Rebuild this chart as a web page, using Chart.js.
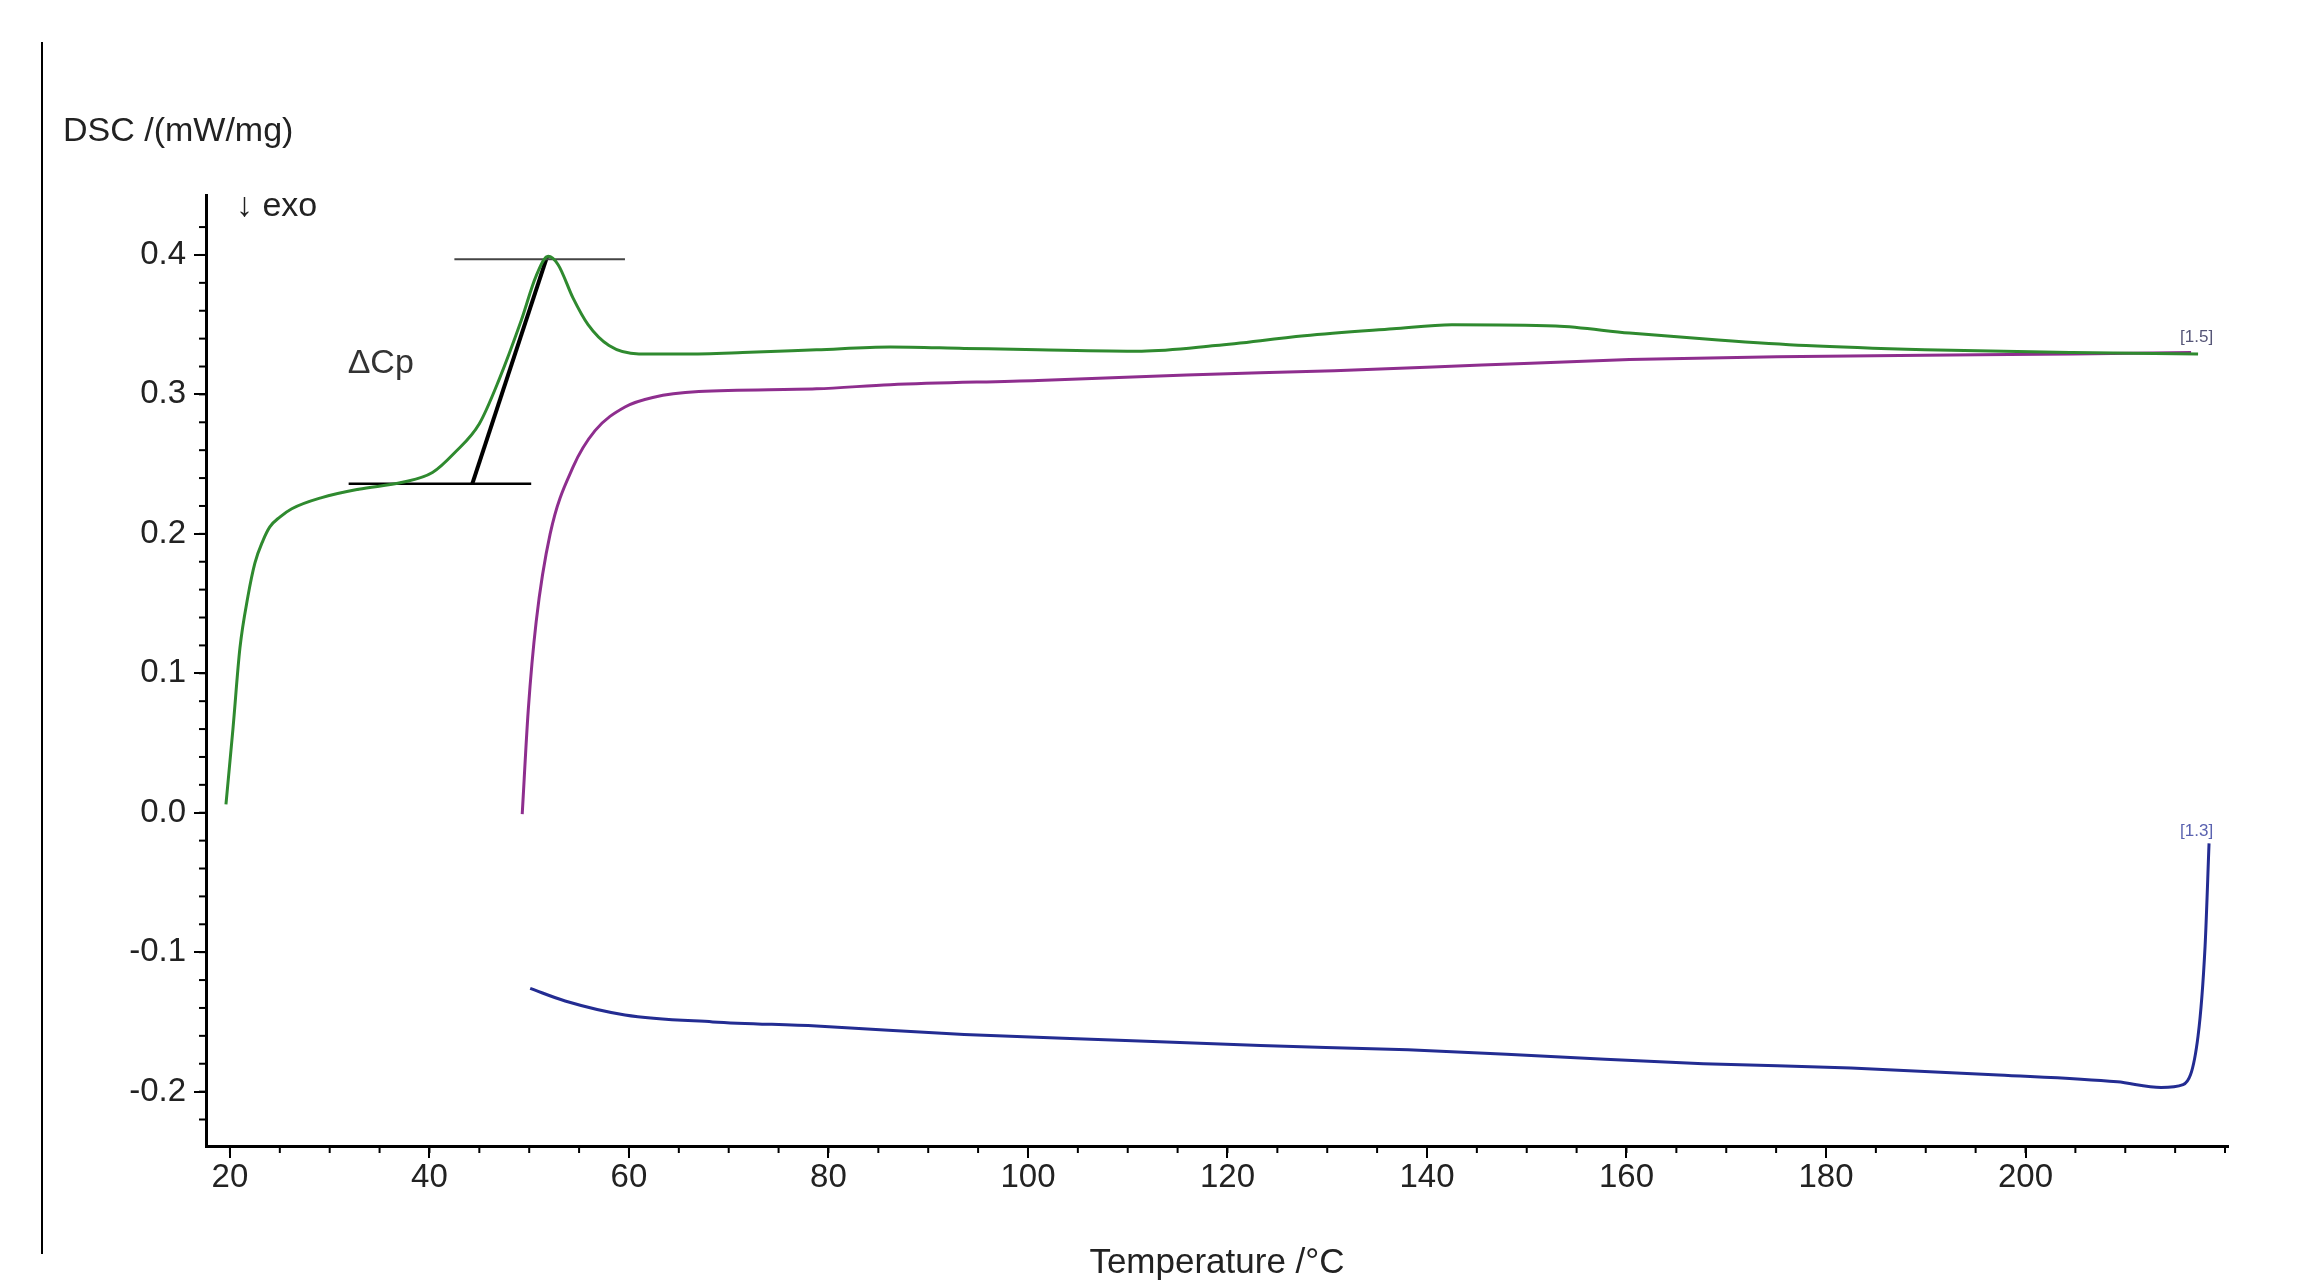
<!DOCTYPE html>
<html>
<head>
<meta charset="UTF-8">
<script src="https://cdn.jsdelivr.net/npm/chart.js@4.4.0/dist/chart.umd.min.js"></script>
<style>
  html, body { margin: 0; padding: 0; background: #fff; }
  #wrap { width: 2321px; height: 1288px; position: relative; }
</style>
</head>
<body>
<div id="wrap"><canvas id="dsc"></canvas></div>
<script>
// DSC curves: temperature (°C) and heat flow (mW/mg)
const greenT = [19.6, 20.3, 21.0, 21.8, 22.5, 23.3, 24.0, 25.0, 26.2, 29.2, 32.9, 37.3, 40.3, 42.5, 45.0, 47.0, 49.2, 50.7, 51.9, 52.9, 54.4, 55.9, 58.0, 61.0, 65.5, 71.4, 78.8, 86.2, 93.6, 101, 111.4, 118.8, 127.7, 136.6, 142.5, 152.9, 160.3, 169.2, 178, 189.9, 204.7, 217.3];
const greenY = [0.006, 0.060, 0.118, 0.155, 0.179, 0.195, 0.205, 0.212, 0.218, 0.226, 0.232, 0.237, 0.244, 0.258, 0.279, 0.311, 0.353, 0.385, 0.399, 0.393, 0.369, 0.350, 0.335, 0.329, 0.329, 0.330, 0.332, 0.334, 0.333, 0.332, 0.331, 0.335, 0.342, 0.347, 0.350, 0.349, 0.344, 0.339, 0.335, 0.332, 0.330, 0.329];

const purpleT = [49.3, 49.9, 50.7, 52.1, 54.4, 56.6, 59.6, 62.5, 67, 78.8, 86.2, 101, 115.9, 130.7, 145.5, 160.3, 175.1, 189.9, 204.7, 216.6];
const purpleY = [-0.001, 0.073, 0.137, 0.200, 0.248, 0.274, 0.291, 0.298, 0.302, 0.304, 0.307, 0.310, 0.314, 0.317, 0.321, 0.325, 0.327, 0.328, 0.329, 0.330];

const blueT = [50.1, 53.6, 59.6, 68.4, 78.8, 93.6, 108.4, 123.3, 138.1, 152.9, 167.7, 182.5, 197.3, 209.2, 213.6, 215.8, 217.3, 218.0, 218.4];
const blueY = [-0.126, -0.135, -0.145, -0.150, -0.153, -0.159, -0.163, -0.167, -0.170, -0.175, -0.180, -0.183, -0.188, -0.193, -0.197, -0.195, -0.160, -0.096, -0.022];

// ΔCp construction lines
const upperBaseT = [42.5, 59.6], upperBaseY = [0.397, 0.397];
const lowerBaseT = [31.9, 50.2], lowerBaseY = [0.236, 0.236];
const tangentT = [44.3, 51.8], tangentY = [0.236, 0.399];

const xTicks = [20, 40, 60, 80, 100, 120, 140, 160, 180, 200];
const yTicks = [-0.2, -0.1, 0.0, 0.1, 0.2, 0.3, 0.4];

const pts = (xs, ys) => xs.map((x, i) => ({ x: x, y: ys[i] }));
const FONT = 'Liberation Sans, Arial, sans-serif';

function curve(label, xs, ys, color, w) {
  return { label, data: pts(xs, ys), borderColor: color, borderWidth: w,
           pointRadius: 0, cubicInterpolationMode: 'monotone', fill: false };
}

const extras = {
  id: 'extras',
  afterDraw(chart) {
    const ctx = chart.ctx, xs = chart.scales.x, ys = chart.scales.y;
    ctx.save();
    ctx.strokeStyle = '#000';
    ctx.lineWidth = 2;
    // minor ticks
    for (let v = -0.22; v <= 0.44; v += 0.02) {
      const p = ys.getPixelForValue(v);
      ctx.beginPath(); ctx.moveTo(xs.left - 7, p); ctx.lineTo(xs.left, p); ctx.stroke();
    }
    for (let v = 20; v <= 220; v += 5) {
      const p = xs.getPixelForValue(v);
      ctx.beginPath(); ctx.moveTo(p, ys.bottom); ctx.lineTo(p, ys.bottom + 7); ctx.stroke();
    }
    // left page rule
    ctx.beginPath(); ctx.moveTo(42, 42); ctx.lineTo(42, 1254); ctx.stroke();
    // texts
    ctx.fillStyle = '#222';
    ctx.font = '34px ' + FONT;
    ctx.textBaseline = 'middle';
    ctx.fillText('DSC /(mW/mg)', 63, 132);
    ctx.fillText('↓ exo', 236, 207);
    ctx.fillStyle = '#333';
    ctx.fillText('ΔCp', xs.getPixelForValue(31.8), ys.getPixelForValue(0.322));
    ctx.font = '17px ' + FONT;
    ctx.fillStyle = '#555577';
    ctx.fillText('[1.5]', xs.getPixelForValue(215.5), ys.getPixelForValue(0.341));
    ctx.fillStyle = '#5a62b0';
    ctx.fillText('[1.3]', xs.getPixelForValue(215.5), ys.getPixelForValue(-0.013));
    ctx.restore();
  }
};

new Chart(document.getElementById('dsc'), {
  type: 'line',
  data: {
    datasets: [
      curve('green', greenT, greenY, '#2f8a2f', 3),
      curve('purple', purpleT, purpleY, '#8e2e8e', 3),
      curve('blue', blueT, blueY, '#232c92', 3),
      { data: pts(upperBaseT, upperBaseY), borderColor: '#444', borderWidth: 2, pointRadius: 0 },
      { data: pts(lowerBaseT, lowerBaseY), borderColor: '#000', borderWidth: 2.5, pointRadius: 0 },
      { data: pts(tangentT, tangentY), borderColor: '#000', borderWidth: 4, pointRadius: 0 }
    ]
  },
  options: {
    responsive: true,
    maintainAspectRatio: false,
    animation: false,
    layout: { padding: { top: 195, right: 93, left: 0, bottom: 0 } },
    plugins: { legend: { display: false }, tooltip: { enabled: false } },
    scales: {
      x: {
        type: 'linear', min: 17.6, max: 220.3,
        afterBuildTicks: s => { s.ticks = xTicks.map(v => ({ value: v })); },
        afterFit: s => { s.height = 142; },
        grid: { drawOnChartArea: false, tickLength: 12, color: '#000', lineWidth: 2 },
        border: { color: '#000', width: 3 },
        ticks: { color: '#222', font: { family: FONT, size: 33 }, padding: 0 },
        title: { display: true, text: 'Temperature /°C', color: '#222',
                 font: { family: FONT, size: 35 }, padding: { top: -14 } }
      },
      y: {
        type: 'linear', min: -0.239, max: 0.443,
        afterBuildTicks: s => { s.ticks = yTicks.map(v => ({ value: v })); },
        afterFit: s => { s.width = 206; },
        grid: { drawOnChartArea: false, tickLength: 12, color: '#000', lineWidth: 2 },
        border: { color: '#000', width: 3 },
        ticks: { color: '#222', font: { family: FONT, size: 33 }, padding: 8,
                 callback: v => v.toFixed(1) }
      }
    }
  },
  plugins: [extras]
});
</script>
</body>
</html>
